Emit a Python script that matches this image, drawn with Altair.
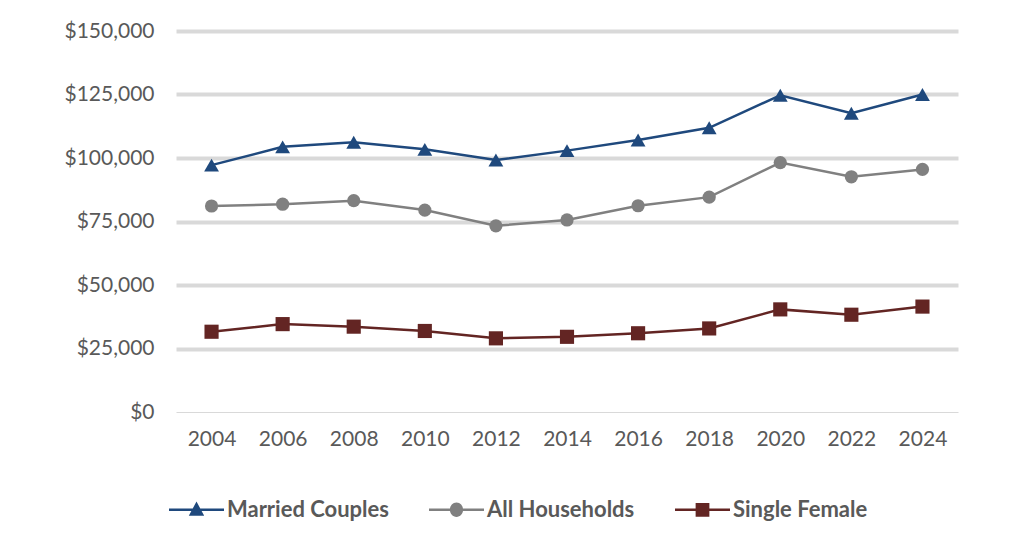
import altair as alt
import pandas as pd

years = ["2004", "2006", "2008", "2010", "2012", "2014", "2016", "2018", "2020", "2022", "2024"]
married = [97200, 104400, 106200, 103400, 99200, 102900, 107100, 111900, 124700, 117600, 125000]
all_households = [81100, 81800, 83200, 79500, 73300, 75600, 81200, 84600, 98200, 92600, 95500]
single_female = [31600, 34600, 33600, 31900, 29000, 29600, 31000, 32900, 40400, 38300, 41500]

series_names = ["Married Couples", "All Households", "Single Female"]
series_colors = ["#1F497D", "#808080", "#632523"]
marker_shapes = ["triangle-up", "circle", "square"]
marker_sizes = [220, 175, 200]
legend_paths = [
    "M-1,-0.045H1V0.045H-1Z M0,-0.3L0.28,0.22H-0.28Z",
    "M-1,-0.045H1V0.045H-1Z M0.24,0A0.24,0.26 0 1,1 -0.24,0A0.24,0.26 0 1,1 0.24,0Z",
    "M-1,-0.045H1V0.045H-1Z M-0.25,-0.25H0.25V0.25H-0.25Z",
]

rows = []
for name, vals in zip(series_names, [married, all_households, single_female]):
    for yr, v in zip(years, vals):
        rows.append({"year": yr, "value": v, "series": name})
df = pd.DataFrame(rows)

FONT = "Lato"
TXT = "#595959"
FS = 21

x_enc = alt.X(
    "year:O",
    sort=years,
    title=None,
    scale=alt.Scale(type="point", padding=0.5),
    axis=alt.Axis(
        labelAngle=0,
        ticks=False,
        domain=True,
        domainColor="#d9d9d9",
        domainWidth=1,
        grid=False,
        labelPadding=16,
        labelFontSize=FS,
        labelColor=TXT,
        labelFont=FONT,
    ),
)
y_enc = alt.Y(
    "value:Q",
    title=None,
    scale=alt.Scale(domain=[0, 150000], nice=False),
    axis=alt.Axis(
        values=[0, 25000, 50000, 75000, 100000, 125000, 150000],
        format="$,.0f",
        ticks=False,
        domain=False,
        grid=True,
        gridColor="#d9d9d9",
        gridWidth={"condition": {"test": "datum.value === 0", "value": 0}, "value": 4},
        labelPadding=22,
        labelFontSize=FS,
        labelColor=TXT,
        labelFont=FONT,
    ),
)

base = alt.Chart(df)

legend_layer = (
    base.transform_filter("false")
    .mark_point(filled=True, opacity=1)
    .encode(
        color=alt.Color(
            "series:N",
            scale=alt.Scale(domain=series_names, range=series_colors),
            legend=alt.Legend(
                title=None,
                orient="none",
                direction="horizontal",
                legendX=-8,
                legendY=450,
                symbolSize=3025,
                symbolOpacity=1,
                labelFont=FONT,
                labelFontSize=22,
                labelFontWeight="bold",
                labelColor=TXT,
                labelOffset=2,
                columnPadding=37,
                padding=0,
                labelLimit=400,
            ),
        ),
        shape=alt.Shape("series:N", scale=alt.Scale(domain=series_names, range=legend_paths)),
    )
)

layers = [legend_layer]
for name, col in zip(series_names, series_colors):
    sub = base.transform_filter(alt.datum.series == name)
    layers.append(sub.mark_line(strokeWidth=2.5, color=col).encode(x=x_enc, y=y_enc))
for name, col, shp, size in zip(series_names, series_colors, marker_shapes, marker_sizes):
    sub = base.transform_filter(alt.datum.series == name)
    layers.append(
        sub.mark_point(filled=True, opacity=1, shape=shp, size=size, color=col).encode(x=x_enc, y=y_enc)
    )

chart = (
    alt.layer(*layers)
    .properties(
        width=782,
        height=381,
        autosize=alt.AutoSizeParams(type="none"),
        padding={"left": 168, "top": 23, "right": 58, "bottom": 124},
    )
    .configure(background="white", view=alt.ViewConfig(stroke=None))
)

chart.save("out.html", embed_options={"renderer": "svg", "actions": False})
